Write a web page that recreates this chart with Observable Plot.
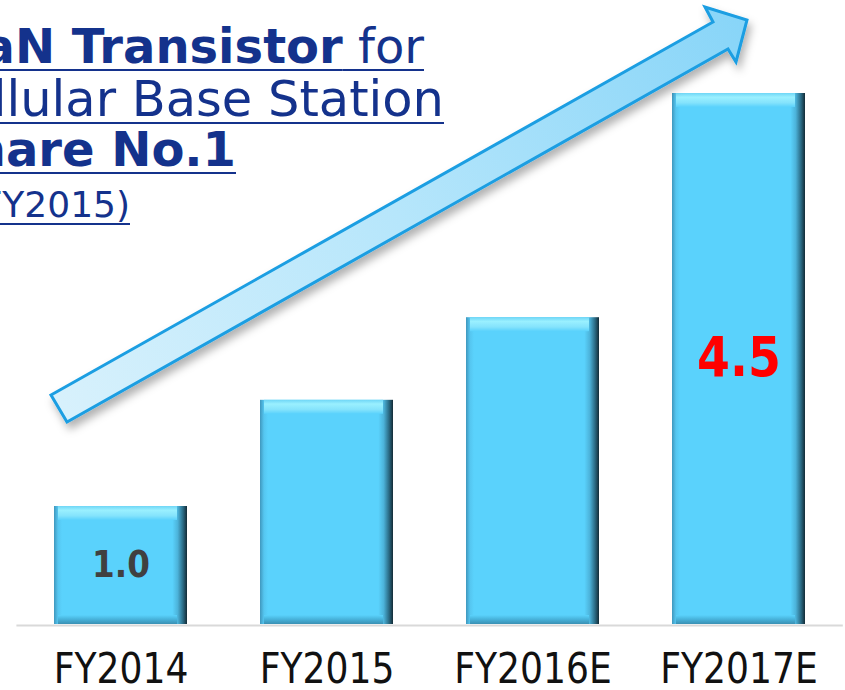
<!DOCTYPE html>
<html><head><meta charset="utf-8">
<script src="https://cdn.jsdelivr.net/npm/d3@7"></script>
<script src="https://cdn.jsdelivr.net/npm/@observablehq/plot@0.6"></script>
<style>
body{margin:0;background:#fff;}
#wrap{position:relative;width:845px;height:690px;overflow:hidden;}
#wrap svg{position:absolute;left:0;top:0;}
.t{position:absolute;white-space:nowrap;font-family:"DejaVu Sans",Verdana,sans-serif;color:#14328c;line-height:1;
text-decoration:underline;text-decoration-thickness:2px;text-underline-offset:6px;}
</style></head><body><div id="wrap"></div>
<script>
// ---- data ----
const categories = ["FY2014", "FY2015", "FY2016E", "FY2017E"];
const values = [1.0, 1.9, 2.6, 4.5];
const valueLabels = ["1.0", "", "", "4.5"];
const valueLabelColors = ["#404040", "", "", "#ff0000"];
const valueLabelSizes = [38, 0, 0, 55];
// title lines: [bold part, regular part]
const titleBold = ["GaN Transistor", "", "Share No.1", ""];
const titleRegular = [" for", "Cellular Base Station", "", "(FY2015)"];

const rows = categories.map((c, i) => ({category: c, value: values[i]}));
const labelRows = categories.map((c, i) => ({category: c, value: values[i], label: valueLabels[i], color: valueLabelColors[i], size: valueLabelSizes[i]}))
  .filter(d => d.label !== "");

const chart = Plot.plot({
  width: 845, height: 690,
  marginTop: 93, marginBottom: 66, marginLeft: 16.4, marginRight: 2.2,
  style: {fontFamily: "DejaVu Sans, Verdana, sans-serif", fontSize: "42px", color: "#111", background: "transparent"},
  x: {domain: categories, paddingInner: 0.355, paddingOuter: 0.18, label: null},
  y: {domain: [0, 4.5], axis: null},
  marks: [
    Plot.ruleY([0], {stroke: "#d9d9d9", strokeWidth: 2, dy: 1}),
    Plot.barY(rows, {x: "category", y: "value", fill: "url(#barH)"}),
    Plot.barY(rows, {x: "category", y1: "value", y2: "value", insetBottom: -14, insetLeft: 4, insetRight: 10, fill: "url(#barTop)"}),
    Plot.barY(rows, {x: "category", y1: 0, y2: 0, insetTop: -9, insetLeft: 4, insetRight: 10, fill: "url(#barBot)"}),
    Plot.axisX({tickSize: 0, tickPadding: 29, fontSize: 42, label: null, fill: "#111"}),
    Plot.text(labelRows, {x: "category", y: d => d.value / 2, text: "label", fill: "color",
      fontSize: d => d.size, fontWeight: "bold", dy: -1})
  ]
});

const wrap = document.getElementById("wrap");
wrap.appendChild(chart);
const svg = d3.select(chart);

const defs = svg.insert("defs", ":first-child");
const gH = defs.append("linearGradient").attr("id", "barH").attr("x1", 0).attr("x2", 1).attr("y1", 0).attr("y2", 0);
[[0, "#3f97bd"], [0.03, "#55c6f0"], [0.06, "#5ad2fc"], [0.89, "#5ad2fc"], [0.93, "#4cb3da"], [0.97, "#2a6a84"], [1, "#132b36"]]
  .forEach(([o, c]) => gH.append("stop").attr("offset", o).attr("stop-color", c));
const gT = defs.append("linearGradient").attr("id", "barTop").attr("x1", 0).attr("x2", 0).attr("y1", 0).attr("y2", 1);
[[0, "#6fd6f6"], [0.3, "#9af0ff"], [0.7, "#84e3fc"], [1, "#5ad2fc"]]
  .forEach(([o, c]) => gT.append("stop").attr("offset", o).attr("stop-color", c));
const gB = defs.append("linearGradient").attr("id", "barBot").attr("x1", 0).attr("x2", 0).attr("y1", 0).attr("y2", 1);
[[0, "#5ad2fc"], [0.4, "#4ab8e0"], [1, "#3a90b4"]]
  .forEach(([o, c]) => gB.append("stop").attr("offset", o).attr("stop-color", c));
const gA = defs.append("linearGradient").attr("id", "arrowFill").attr("gradientUnits", "userSpaceOnUse")
  .attr("x1", 55).attr("y1", 410).attr("x2", 745).attr("y2", 25);
[[0, "#d8f1fc"], [0.5, "#b6e6fb"], [1, "#88d5f8"]]
  .forEach(([o, c]) => gA.append("stop").attr("offset", o).attr("stop-color", c));
const f = defs.append("filter").attr("id", "shadow").attr("x", "-10%").attr("y", "-10%").attr("width", "130%").attr("height", "130%");
f.append("feDropShadow").attr("dx", 3).attr("dy", 6).attr("stdDeviation", 4).attr("flood-color", "#000").attr("flood-opacity", 0.3);

// decorative block arrow (growth indicator)
const arrowPts = [[51, 395], [713, 22], [705, 7], [747, 20], [736, 62], [728, 49], [67, 422]];
svg.append("path")
  .attr("d", "M" + arrowPts.map(p => p.join(",")).join("L") + "Z")
  .attr("fill", "url(#arrowFill)").attr("stroke", "#1a9ee2").attr("stroke-width", 3)
  .attr("stroke-linejoin", "miter").attr("filter", "url(#shadow)");

// horizontal compression of chart texts
svg.selectAll("text").each(function() {
  const b = this.getBBox();
  const cx = b.x + b.width / 2;
  const t = this.getAttribute("transform") || "";
  this.setAttribute("transform", `${t} translate(${cx},0) scale(0.86,1) translate(${-cx},0)`);
});

// title lines
const titleRight = [424, 444, 236, 130];
const titleBaseline = [62.5, 116.5, 166, 217];
const titleSize = [48, 49.5, 48, 36];
titleBold.forEach((b, i) => {
  const div = document.createElement("div");
  div.className = "t";
  div.style.fontSize = titleSize[i] + "px";
  div.style.right = (845 - titleRight[i]) + "px";
  div.style.top = (titleBaseline[i] - 0.846 * titleSize[i]) + "px";
  if (b) { const s = document.createElement("b"); s.textContent = b; div.appendChild(s); }
  if (titleRegular[i]) div.appendChild(document.createTextNode(titleRegular[i]));
  wrap.appendChild(div);
});
</script>
</body></html>
